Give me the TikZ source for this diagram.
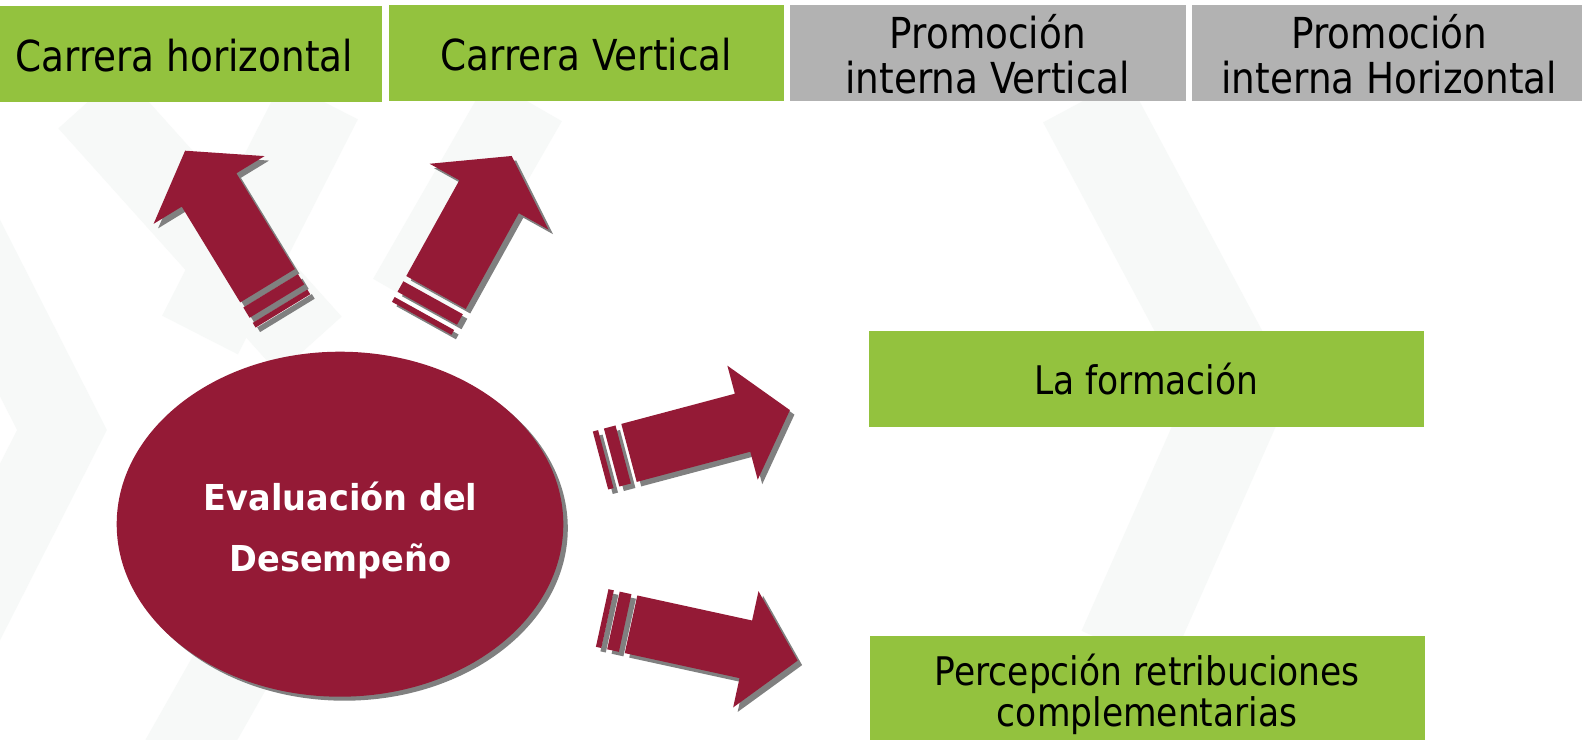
\documentclass[tikz,border=0pt]{standalone}
\usepackage{fontspec}
\setmainfont{DejaVu Sans}[FakeStretch=0.875]
\newfontfamily\evalfont{DejaVu Sans}[FakeStretch=0.94]
\usetikzlibrary{shapes.geometric}
\definecolor{wine}{HTML}{941A36}
\definecolor{lime}{HTML}{93C23E}
\definecolor{boxgray}{HTML}{B2B2B2}
\definecolor{shadowgray}{HTML}{808080}
\definecolor{wm}{HTML}{F7F9F8}
% #1 x, #2 y (tail centre), #3 angle, #4 length, #5 half width, #6 head half width, #7 head length
\newcommand{\stripedarrow}[7]{%
  \foreach \col/\dx in {shadowgray/4.5, wine/0}{%
    \fill[\col, shift={(#1+\dx,#2+\dx)}, rotate=#3]
      (0,-#5) rectangle (5.5,#5)
      (11.5,-#5) rectangle (23.5,#5)
      (29.5,-#5) -- ({#4-#7},-#5) -- ({#4-#7},-#6) -- (#4,0)
      -- ({#4-#7},#6) -- ({#4-#7},#5) -- (29.5,#5) -- cycle;
  }%
}
\begin{document}
\begin{tikzpicture}[x=1pt,y=-1pt,
  topbox/.style={minimum width=395.6pt, minimum height=96pt, inner sep=0pt, outer sep=0pt},
  lowbox/.style={fill=lime, minimum width=555pt, inner sep=0pt, outer sep=0pt},
  toptext/.style={anchor=base, align=center, font=\fontsize{42.7}{44.4}\selectfont},
  lowtext/.style={anchor=base, align=center, font=\fontsize{39.4}{41.3}\selectfont},
]
\useasboundingbox (0,0) rectangle (1582,739);
\fill[white] (0,0) rectangle (1582,739);
% watermark
\begin{scope}[wm, line cap=butt, line join=miter]
  \draw[line width=80pt] (-60,190) -- (62,430) -- (-60,670);
  \draw[line width=85pt] (90,100) -- (310,345);
  \draw[line width=85pt] (320,100) -- (200,335);
  \draw[line width=85pt] (525,100) -- (410,300);
  \draw[line width=95pt] (1085,100) -- (1240,390) -- (1125,650);
  \draw[line width=80pt] (180,760) -- (265,610);
\end{scope}
% top boxes
\node[topbox, fill=lime, anchor=north west] (ch) at (-13.6,6) {};
\node[topbox, fill=lime, anchor=north west] (cv) at (388.5,5) {};
\node[topbox, fill=boxgray, anchor=north west] (piv) at (790,5) {};
\node[topbox, fill=boxgray, anchor=north west] (pih) at (1191.6,5) {};
\node[toptext] (tch) at (ch.center |- 0,71) {Carrera horizontal};
\node[toptext] (tcv) at (cv.center |- 0,70) {Carrera Vertical};
\node[toptext] (tpiv) at (piv.center |- 0,93.2) {Promoción\\interna Vertical};
\node[toptext] (tpih) at (pih.center |- 0,93.2) {Promoción\\interna Horizontal};
% lower boxes
\node[lowbox, minimum height=96pt, anchor=north west] (form) at (868.7,331) {};
\node[lowbox, minimum height=111pt, anchor=north west] (perc) at (869.7,635.6) {};
\node[lowtext] (tform) at (form.center |- 0,394.7) {La formación};
\node[lowtext] (tperc) at (perc.center |- 0,726.6) {Percepción retribuciones\\complementarias};
% central ellipse
\fill[shadowgray] (344.5,528.2) ellipse [x radius=223.3, y radius=172.5];
\node[ellipse, fill=wine, minimum width=446.6pt, minimum height=345pt, inner sep=0pt] (eval) at (340,524.2) {};
\node[anchor=base, align=center, text=white, font=\evalfont\bfseries\fontsize{35.7}{60.7}\selectfont] (teval) at (340.5,571.1) {Evaluación del\\Desempeño};
% striped block arrows
\stripedarrow{282.9}{310.9}{121.4}{187.7}{32}{65}{46}
\stripedarrow{421.7}{318.3}{61.0}{185.6}{34}{68}{46.6}
\stripedarrow{600.5}{460.5}{14.9}{196}{30}{59}{49}
\stripedarrow{602.2}{618}{-12.3}{200}{29.5}{59.5}{53}
\end{tikzpicture}
\end{document}
